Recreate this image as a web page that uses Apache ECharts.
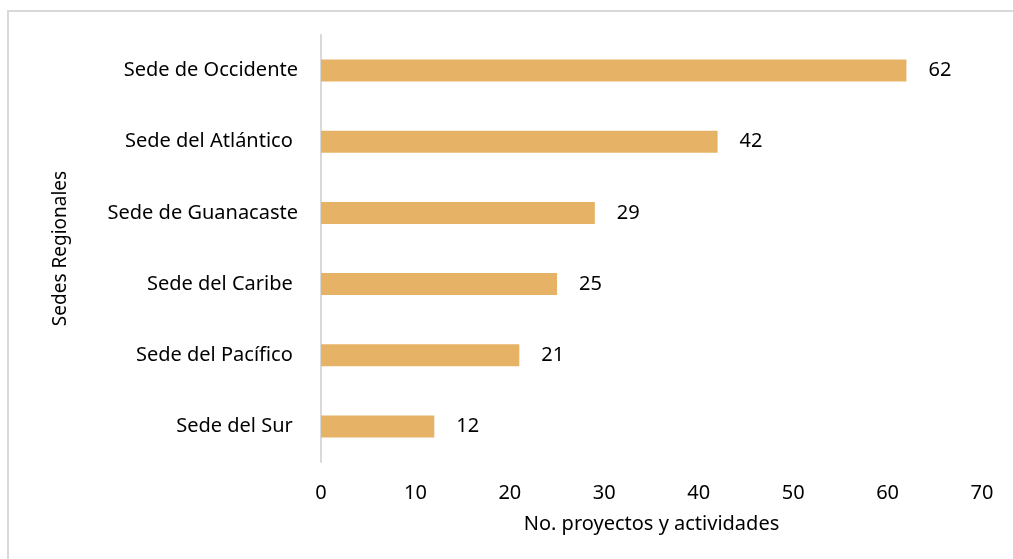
<!DOCTYPE html>
<html>
<head>
<meta charset="utf-8">
<script src="https://cdn.jsdelivr.net/npm/echarts@6/dist/echarts.min.js"></script>
<style>
  html, body { margin: 0; padding: 0; background: #fff; overflow: hidden; }
  .frame {
    position: absolute;
    left: 7px;
    top: 10px;
    right: 0;
    bottom: 0;
    border-top: 2px solid #d9d9d9;
    border-left: 2px solid #d9d9d9;
  }
  #chart {
    position: absolute;
    left: 0;
    top: 0;
    width: 1013px;
    height: 559px;
  }
</style>
</head>
<body>
<div class="frame"></div>
<div id="chart"></div>
<script>
  const categories = [
    'Sede de Occidente',
    'Sede del Atlántico ',
    'Sede de Guanacaste',
    'Sede del Caribe ',
    'Sede del Pacífico ',
    'Sede del Sur '
  ];
  const values = [62, 42, 29, 25, 21, 12];
  const xTicks = [0, 70, 10]; // min, max, interval

  const fontFam = '"Noto Sans", "Open Sans", sans-serif';
  const chart = echarts.init(document.getElementById('chart'));
  const option = {
    animation: false,
    textStyle: { fontFamily: fontFam },
    grid: {
      top: 35,
      left: 321,
      right: 31,
      bottom: 97,
      containLabel: false
    },
    xAxis: {
      type: 'value',
      min: xTicks[0],
      max: xTicks[1],
      interval: xTicks[2],
      name: 'No. proyectos y actividades',
      nameLocation: 'middle',
      nameGap: 52,
      nameTextStyle: { fontSize: 20, color: '#000', fontFamily: fontFam },
      axisLine: { show: false },
      axisTick: { show: false },
      splitLine: { show: false },
      axisLabel: { fontSize: 20, color: '#000', margin: 21, fontFamily: fontFam }
    },
    yAxis: {
      type: 'category',
      inverse: true,
      data: categories,
      name: 'Sedes Regionales',
      nameLocation: 'middle',
      nameGap: 251,
      nameTextStyle: { fontSize: 19, color: '#000', fontFamily: fontFam },
      axisLine: { show: true, lineStyle: { color: '#d9d9d9', width: 2 } },
      axisTick: { show: false },
      axisLabel: { fontSize: 20, color: '#000', margin: 23, fontFamily: fontFam }
    },
    series: [
      {
        type: 'bar',
        data: values,
        barWidth: 22,
        itemStyle: { color: '#E6B366' },
        label: {
          show: true,
          position: 'right',
          distance: 22,
          fontSize: 20,
          color: '#000',
          fontFamily: fontFam
        }
      }
    ]
  };
  chart.setOption(option);
</script>
</body>
</html>
